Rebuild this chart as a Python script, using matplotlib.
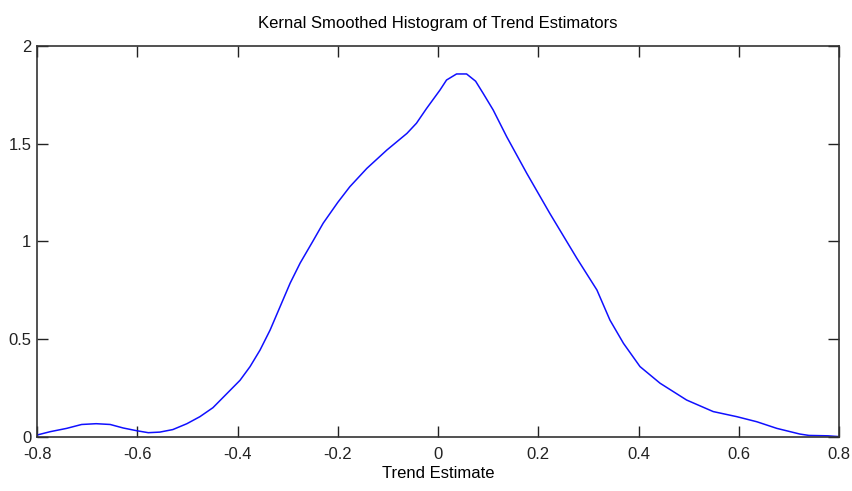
import matplotlib
matplotlib.use('Agg')
import matplotlib.pyplot as plt

# points
trend = [-0.800, -0.774, -0.741, -0.711, -0.682, -0.654, -0.628, -0.601, -0.578,
         -0.555, -0.529, -0.501, -0.475, -0.449, -0.422, -0.395, -0.375, -0.355,
         -0.335, -0.315, -0.295, -0.275, -0.250, -0.229, -0.200, -0.176, -0.142,
         -0.102, -0.062, -0.043, -0.023, 0.004, 0.017, 0.037, 0.057, 0.075,
         0.090, 0.110, 0.137, 0.177, 0.223, 0.277, 0.317, 0.343, 0.370,
         0.403, 0.443, 0.496, 0.549, 0.596, 0.636, 0.676, 0.722, 0.740,
         0.778, 0.800]
density = [0.010, 0.027, 0.044, 0.064, 0.068, 0.064, 0.046, 0.032, 0.022,
           0.025, 0.038, 0.068, 0.104, 0.150, 0.220, 0.290, 0.360, 0.445,
           0.547, 0.667, 0.787, 0.890, 1.000, 1.094, 1.200, 1.280, 1.374,
           1.468, 1.553, 1.605, 1.680, 1.775, 1.826, 1.857, 1.857, 1.820,
           1.758, 1.673, 1.536, 1.349, 1.144, 0.914, 0.752, 0.598, 0.479,
           0.360, 0.275, 0.189, 0.130, 0.104, 0.078, 0.044, 0.015, 0.008,
           0.006, 0.002]

xticks = [-0.8, -0.6, -0.4, -0.2, 0, 0.2, 0.4, 0.6, 0.8]
xtick_labels = ['-0.8', '-0.6', '-0.4', '-0.2', '0', '0.2', '0.4', '0.6', '0.8']
yticks = [0, 0.5, 1, 1.5, 2]
ytick_labels = ['0', '0.5', '1', '1.5', '2']

plt.rcParams['font.family'] = ['Liberation Sans', 'DejaVu Sans']
plt.rcParams['axes.unicode_minus'] = False

fig = plt.figure(figsize=(8.53, 4.91), dpi=100)
ax = fig.add_axes([0.0434, 0.110, 0.9402, 0.7963])
ax.plot(trend, density, color='#1010ff', linewidth=1.1)

ax.set_xlim(-0.8, 0.8)
ax.set_ylim(0, 2)
ax.set_xticks(xticks)
ax.set_xticklabels(xtick_labels)
ax.set_yticks(yticks)
ax.set_yticklabels(ytick_labels)
ax.tick_params(direction='in', length=8, width=1, top=True, right=True,
               labelsize=12, colors='#222222')
ax.tick_params(axis='x', pad=7)
ax.tick_params(axis='y', pad=4)
for s in ax.spines.values():
    s.set_linewidth(1.2)
    s.set_color('#333333')

ax.set_title('Kernal Smoothed Histogram of Trend Estimators', fontsize=12, pad=13)
ax.set_xlabel('Trend Estimate', fontsize=12, labelpad=3)

fig.savefig('out.png', dpi=100)
